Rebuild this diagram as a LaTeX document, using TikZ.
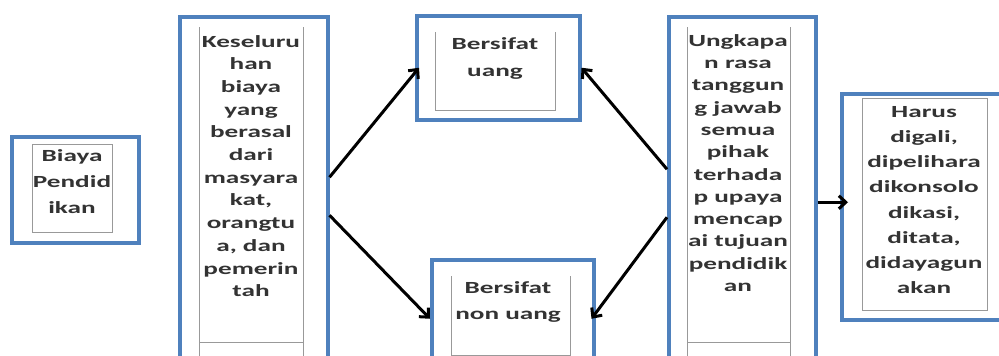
\documentclass[tikz,border=0pt]{standalone}
\usepackage{fontspec}
\setmainfont{Carlito}[FakeStretch=1.6]
\usetikzlibrary{arrows.meta}
\definecolor{boxblue}{HTML}{4F81BD}
\tikzset{
  outerbox/.style={draw=boxblue, line width=3.5pt, anchor=north west, inner sep=0pt, fill=none},
  innerline/.style={draw=black!40, line width=1pt},
  txt/.style={align=center, text=black!80, inner sep=0pt},
  arr/.style={draw=black, line width=3pt, -{Straight Barb[length=7pt,width=13pt,line width=3pt]}},
}
\newcommand{\tf}[1]{\bfseries\fontsize{17}{#1}\selectfont}
\begin{document}
\begin{tikzpicture}[x=1pt,y=-1pt]
\useasboundingbox (0,0) rectangle (999,356);
\clip (0,0) rectangle (999,356);
% outer boxes
\node[outerbox, minimum width=127pt, minimum height=106pt] (b1) at (10,135) {};
\node[outerbox, minimum width=148pt, minimum height=355pt] (b2) at (178,15) {};
\node[outerbox, minimum width=163pt, minimum height=104pt] (b3) at (415,14) {};
\node[outerbox, minimum width=162pt, minimum height=112pt] (b4) at (430,258) {};
\node[outerbox, minimum width=147pt, minimum height=355pt] (b5) at (667,15) {};
\node[outerbox, minimum width=165pt, minimum height=226pt] (b6) at (840,92) {};
% inner gray frames
\draw[innerline] (32,144) rectangle (112,232);
\draw[innerline] (199,27) -- (199,360) (303,27) -- (303,360) (199,342) -- (303,342);
\draw[innerline] (435,32) -- (435,110) -- (555,110) -- (555,32);
\draw[innerline] (451,276) -- (451,355) -- (570,355) -- (570,276);
\draw[innerline] (687,27) -- (687,360) (790,27) -- (790,360) (687,342) -- (790,342);
\draw[innerline] (862,98) rectangle (987,310);
% texts
\node[txt, font=\tf{26}] (t1) at (72,182) {Biaya\\Pendid\\ikan};
\node[txt, font=\tf{22.7}] (t2) at (251,166) {Keseluru\\han\\biaya\\yang\\berasal\\dari\\masyara\\kat,\\orangtu\\a, dan\\pemerin\\tah};
\node[txt, font=\tf{27}] (t3) at (495,58) {Bersifat\\uang};
\node[txt, font=\tf{26}] (t4) at (508,302) {Bersifat\\non uang};
\node[txt, font=\tf{22.3}] (t5) at (738,163) {Ungkapa\\n rasa\\tanggun\\g jawab\\semua\\pihak\\terhada\\p upaya\\mencap\\ai tujuan\\pendidik\\an};
\node[txt, font=\tf{25.1}] (t6) at (924,200) {Harus\\digali,\\dipelihara\\dikonsolo\\dikasi,\\ditata,\\didayagun\\akan};
% arrows
\draw[arr] ([yshift=17pt]b2.east) -- ([xshift=4pt]b3.west);
\draw[arr] ([yshift=-21pt]b2.east) -- ([yshift=-3pt]b4.west);
\draw[arr] ([yshift=25pt]b5.west) -- (b3.east);
\draw[arr] ([yshift=-23pt]b5.west) -- ([xshift=-4pt,yshift=-3pt]b4.east);
\draw[arr] ([yshift=-8pt]b5.east) -- ([yshift=-8pt,xshift=8pt]b5.east -| b6.west);
\end{tikzpicture}
\end{document}
